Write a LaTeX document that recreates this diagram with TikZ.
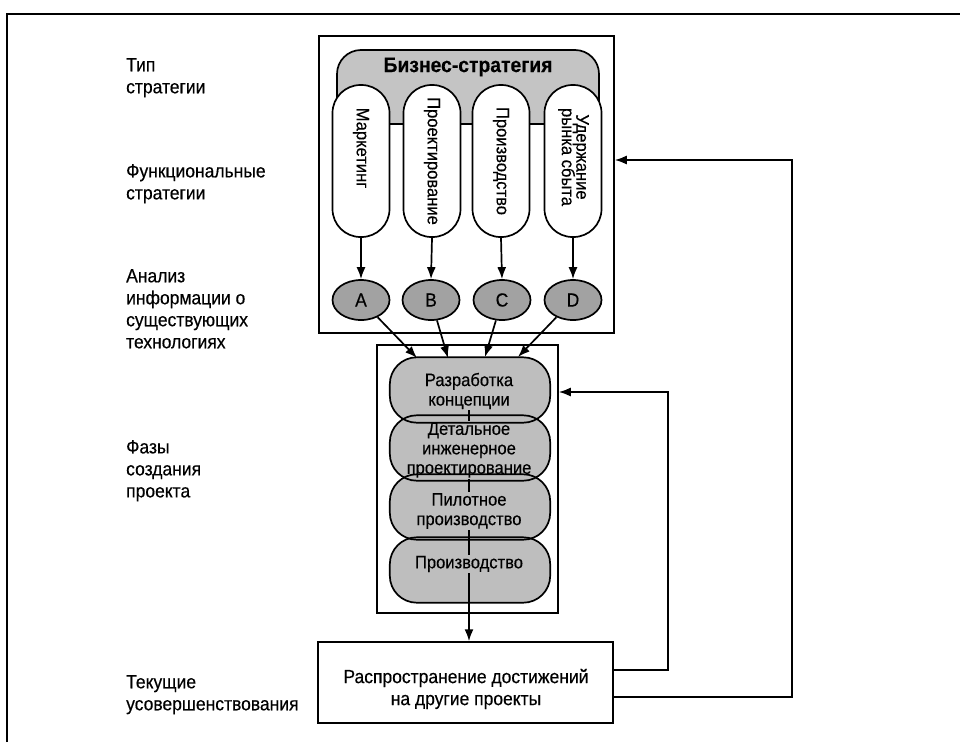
\documentclass[tikz,border=0pt]{standalone}
\usepackage{fontspec}
\setmainfont{Liberation Sans}[FakeStretch=0.92,FakeBold=0.4]
\usetikzlibrary{arrows.meta,shapes.geometric}
\definecolor{bizgray}{HTML}{C4C4C4}
\definecolor{ellgray}{HTML}{A2A2A2}
\definecolor{phgray}{HTML}{BEBEBE}
\tikzset{
  txt/.style={font=\fontsize{19}{22}\selectfont},
  stxt/.style={font=\fontsize{18}{19.5}\selectfont},
  lbl/.style={txt, align=left, anchor=north west, inner sep=0pt},
  frame/.style={draw, line width=1.5pt, inner sep=0pt},
  vpill/.style={draw, fill=white, line width=1.7pt, rounded corners=28pt, minimum width=57pt, minimum height=152pt, inner sep=0pt, stxt},
  ell/.style={draw, fill=ellgray, ellipse, line width=1.7pt, minimum width=57pt, minimum height=40pt, inner sep=0pt, txt},
  phpill/.style={fill=phgray, rounded corners=27pt, minimum width=160pt, minimum height=65pt, inner sep=0pt},
  phtxt/.style={stxt, align=center, inner sep=1pt},
  arr/.style={line width=1.7pt, -{Latex[length=12pt,width=9pt]}},
  conn/.style={line width=1.7pt}
}
\begin{document}
\begin{tikzpicture}[x=1pt,y=-1pt]
\useasboundingbox (0,0) rectangle (960,742);
% outer frame (top and left)
\draw[line width=1.8pt] (7,742) -- (7,14) -- (960,14);

% left labels
\node[lbl] (l1) at (126,58) {Тип\\стратегии};
\node[lbl] (l2) at (126,164) {Функциональные\\стратегии};
\node[lbl] (l3) at (126,269) {Анализ\\информации о\\существующих\\технологиях};
\node[lbl] (l4) at (126,440) {Фазы\\создания\\проекта};
\node[lbl] (l5) at (126,675) {Текущие\\усовершенствования};

% top box
\node[frame, minimum width=295pt, minimum height=297pt] (topbox) at (466.5,184.5) {};
\node[draw, fill=bizgray, line width=1.7pt, rounded corners=24pt, minimum width=262pt, minimum height=74pt] (biz) at (468,87) {};
\node[font=\fontsize{21}{24}\selectfont\bfseries] (biztext) at (468,67) {Бизнес-стратегия};

\node[vpill] (m) at (361,161) {\rotatebox{-90}{Маркетинг\hspace{26pt}}};
\node[vpill] (p) at (432,161) {\rotatebox{-90}{Проектирование}};
\node[vpill] (pr) at (501,161) {\rotatebox{-90}{Производство}};
\node[vpill] (u) at (573,161) {\rotatebox{-90}{\begin{tabular}{@{}c@{}}Удержание\\[-5pt]рынка сбыта\end{tabular}\hspace{8pt}}};

\node[ell] (A) at (361,300) {A};
\node[ell] (B) at (431,300) {B};
\node[ell] (C) at (502,300) {C};
\node[ell] (D) at (573,300) {D};

\draw[arr] (m.south) -- (A.north);
\draw[arr] (p.south) -- (B.north);
\draw[arr] (pr.south) -- (C.north);
\draw[arr] (u.south) -- (D.north);

% phases box
\node[frame, minimum width=181pt, minimum height=268pt] (phase) at (467.5,479) {};
\node[phpill] (p1) at (470,390) {};
\node[phpill] (p2) at (470,448) {};
\node[phpill] (p3) at (470,507) {};
\node[phpill] (p4) at (470,570) {};
\foreach \n in {p1,p2,p3,p4}
  \draw[line width=1.7pt, rounded corners=27pt] (\n.south west) rectangle (\n.north east);

\node[phtxt] (t1) at (469,391) {Разработка\\концепции};
\node[phtxt] (t2) at (469,450) {Детальное\\инженерное\\проектирование};
\node[phtxt] (t3) at (469,511) {Пилотное\\производство};
\node[phtxt] (t4) at (469,564) {Производство};

\draw[conn] (t1.south) -- (t2.north);
\draw[conn] (t2.south) -- (t3.north);
\draw[conn] (t3.south) -- (t4.north);

\coordinate (a1) at (417,358);
\coordinate (a2) at (448,358);
\coordinate (a3) at (485,357);
\coordinate (a4) at (518,357);
\draw[arr] (A) -- (a1);
\draw[arr] (B) -- (a2);
\draw[arr] (C) -- (a3);
\draw[arr] (D) -- (a4);

% bottom box
\node[frame, minimum width=295pt, minimum height=81pt] (bottom) at (465.5,682.5) {};
\node[txt, align=center] (btxt) at (466,689) {Распространение достижений\\на другие проекты};
\draw[arr] (t4.south) -- (t4.south |- bottom.north);

\coordinate (fb1) at (668,392);
\coordinate (fb2) at (792,160);
\draw[arr] ([yshift=12.5pt]bottom.east) -| (fb1) -- (fb1 -| phase.east);
\draw[arr] ([yshift=-14.5pt]bottom.east) -| (fb2) -- (fb2 -| topbox.east);
\end{tikzpicture}
\end{document}
